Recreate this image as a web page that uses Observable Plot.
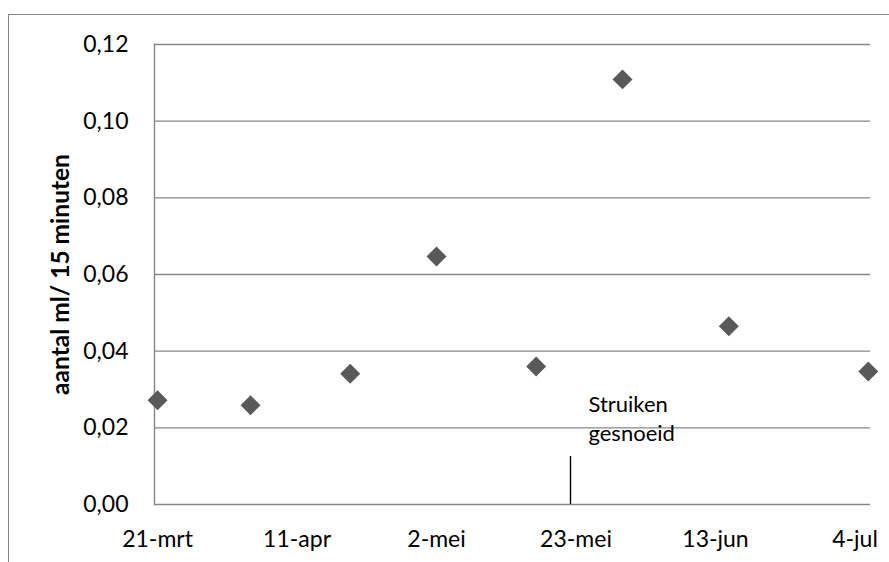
<!DOCTYPE html>
<html>
<head>
<meta charset="utf-8">
<script src="https://cdn.jsdelivr.net/npm/d3@7"></script>
<script src="https://cdn.jsdelivr.net/npm/@observablehq/plot@0.6"></script>
<style>
  html, body { margin: 0; padding: 0; background: #fff; overflow: hidden; }
  #wrap { position: relative; width: 889px; height: 562px; }
  #border { position: absolute; left: 8px; top: 14px; width: 1000px; height: 700px;
            border: 1.5px solid #878787; box-sizing: border-box; pointer-events: none; }
</style>
</head>
<body>
<div id="wrap"><div id="border"></div></div>
<script>
// Measurement dates and values (ml per 15 minutes)
const dates = ["2013-03-21", "2013-04-04", "2013-04-19", "2013-05-02", "2013-05-17", "2013-05-30", "2013-06-15", "2013-07-06"];
const values = [0.0272, 0.0259, 0.0341, 0.0647, 0.0360, 0.1109, 0.0465, 0.0347];

// Axis ticks
const tickDates = ["2013-03-21", "2013-04-11", "2013-05-02", "2013-05-23", "2013-06-13", "2013-07-04"];
const tickLabels = ["21-mrt", "11-apr", "2-mei", "23-mei", "13-jun", "4-jul"];
const yTicks = [0, 0.02, 0.04, 0.06, 0.08, 0.10, 0.12];

// Pruning event
const cutDate = "2013-05-22T04:00";
const cutLine = [0, 0.0125];
const cutText = "Struiken\ngesnoeid";

const points = dates.map((d, i) => ({date: new Date(d), value: values[i]}));
const tickMap = new Map(tickDates.map((d, i) => [+new Date(d), tickLabels[i]]));
const fmtY = d => d.toFixed(2).replace(".", ",");

const font = "Lato, 'Open Sans', sans-serif";
const grey = "#878787";

const chart = Plot.plot({
  width: 889,
  height: 562,
  marginLeft: 154,
  marginRight: 19,
  marginTop: 44,
  marginBottom: 58,
  style: {fontFamily: font, fontSize: "23px", color: "#000", background: "transparent"},
  x: {type: "utc", domain: [new Date("2013-03-20T13:00"), new Date("2013-07-06T08:00")]},
  y: {domain: [0, 0.12]},
  marks: [
    Plot.gridY(yTicks, {stroke: grey, strokeOpacity: 1, strokeWidth: 1.4}),
    Plot.frame({anchor: "left", stroke: grey, strokeWidth: 1.4}),
    Plot.axisY(yTicks, {tickSize: 0, tickPadding: 26, tickFormat: fmtY, label: null, fontSize: 23}),
    Plot.axisX(tickDates.map(d => new Date(d)), {
      tickSize: 0, tickPadding: 26, label: null, fontSize: 23,
      tickFormat: d => tickMap.get(+d)
    }),
    Plot.text(["aantal ml/ 15 minuten"], {
      frameAnchor: "left", rotate: -90, dx: -93, fontWeight: "bold", fontSize: 24.5,
      textAnchor: "middle", lineAnchor: "middle", fill: "#000"
    }),
    Plot.ruleX([cutDate], {x: d => new Date(d), y1: cutLine[0], y2: cutLine[1], stroke: "#000", strokeWidth: 1.4}),
    Plot.text([cutText], {
      x: () => new Date(cutDate), y: () => cutLine[1], text: d => d,
      textAnchor: "start", lineAnchor: "bottom", dx: 18, dy: -16, fontSize: 22,
      lineHeight: 1.32, fill: "#000"
    }),
    Plot.dot(points, {x: "date", y: "value", symbol: "diamond2", r: 9, fill: "#595959", stroke: "none"})
  ]
});

document.getElementById("wrap").prepend(chart);
</script>
</body>
</html>
